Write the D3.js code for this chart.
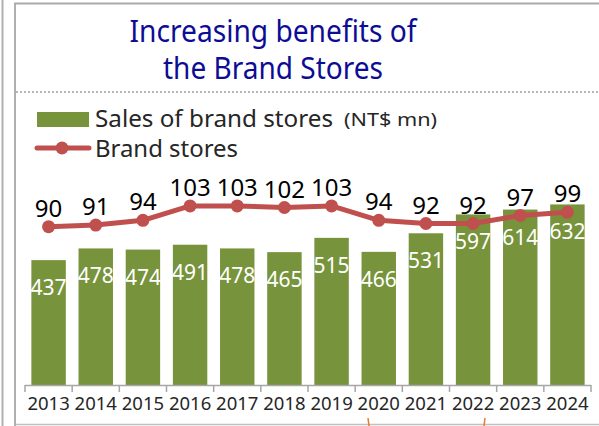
<!DOCTYPE html>
<html>
<head>
<meta charset="utf-8">
<script src="https://cdn.jsdelivr.net/npm/d3@7"></script>
<style>
  body { margin: 0; background: #fff; }
  svg { display: block; font-family: "Noto Sans", "Open Sans", sans-serif; }
</style>
</head>
<body>
<svg id="chart" width="599" height="426"></svg>
<script>
var years = ['2013', '2014', '2015', '2016', '2017', '2018', '2019', '2020', '2021', '2022', '2023', '2024'];
var sales = [437, 478, 474, 491, 478, 465, 515, 466, 531, 597, 614, 632];
var stores = [90, 91, 94, 103, 103, 102, 103, 94, 92, 92, 97, 99];

var svg = d3.select('#chart');

// frame
svg.append('line').attr('x1', 2.5).attr('x2', 2.5).attr('y1', 0).attr('y2', 426).attr('stroke', '#b0b0b0').attr('stroke-width', 2);
svg.append('line').attr('x1', 15).attr('x2', 15).attr('y1', 3).attr('y2', 426).attr('stroke', '#b0b0b0').attr('stroke-width', 2);
svg.append('line').attr('x1', 14).attr('x2', 599).attr('y1', 3.5).attr('y2', 3.5).attr('stroke', '#aaaaaa').attr('stroke-width', 2);
svg.append('line').attr('x1', 16).attr('x2', 599).attr('y1', 92).attr('y2', 92).attr('stroke', '#a0a0a0').attr('stroke-width', 1.5).attr('stroke-dasharray', '2,2');
svg.append('line').attr('x1', 16).attr('x2', 599).attr('y1', 424.5).attr('y2', 424.5).attr('stroke', '#c0c0c0').attr('stroke-width', 1.5);
svg.append('line').attr('x1', 368).attr('x2', 369).attr('y1', 418).attr('y2', 426).attr('stroke', '#e87a2c').attr('stroke-width', 1.5);
svg.append('line').attr('x1', 485).attr('x2', 484).attr('y1', 418).attr('y2', 426).attr('stroke', '#e87a2c').attr('stroke-width', 1.5);

// title
svg.append('text').attr('x', 273).attr('y', 42).attr('text-anchor', 'middle').attr('fill', '#0c0c94')
  .attr('textLength', 287).attr('lengthAdjust', 'spacingAndGlyphs')
  .style('font-size', '30px').text('Increasing benefits of');
svg.append('text').attr('x', 273).attr('y', 79).attr('text-anchor', 'middle').attr('fill', '#0c0c94')
  .attr('textLength', 220).attr('lengthAdjust', 'spacingAndGlyphs')
  .style('font-size', '30px').text('the Brand Stores');

// legend
svg.append('rect').attr('x', 37).attr('y', 112).attr('width', 52).attr('height', 15).attr('fill', '#77933c');
svg.append('text').attr('x', 95).attr('y', 127).attr('fill', '#262626').style('font-size', '23px')
  .attr('textLength', 238).attr('lengthAdjust', 'spacingAndGlyphs').text('Sales of brand stores');
svg.append('text').attr('x', 344).attr('y', 126).attr('fill', '#262626').style('font-size', '18px')
  .attr('textLength', 93).attr('lengthAdjust', 'spacingAndGlyphs').text('(NT$ mn)');
svg.append('line').attr('x1', 37).attr('x2', 89).attr('y1', 148).attr('y2', 148).attr('stroke', '#c0504d').attr('stroke-width', 5).attr('stroke-linecap', 'round');
svg.append('circle').attr('cx', 62).attr('cy', 148).attr('r', 6.5).attr('fill', '#c0504d');
svg.append('text').attr('x', 95).attr('y', 157).attr('fill', '#262626').style('font-size', '23px')
  .attr('textLength', 143).attr('lengthAdjust', 'spacingAndGlyphs').text('Brand stores');

// scales
var x = d3.scaleBand().domain(years).range([25, 591]).paddingInner(0.27).paddingOuter(0.135);
var ySales = d3.scaleLinear().domain([0, 700]).range([385, 185]);
var yStores = d3.scaleLinear().domain([80, 110]).range([242.7, 194.7]);

// bars
svg.selectAll('rect.bar').data(sales).enter().append('rect').attr('class', 'bar')
  .attr('x', function(d, i) { return x(years[i]); })
  .attr('y', function(d) { return ySales(d); })
  .attr('width', x.bandwidth())
  .attr('height', function(d) { return 385 - ySales(d); })
  .attr('fill', '#77933c');

svg.selectAll('text.barlabel').data(sales).enter().append('text').attr('class', 'barlabel')
  .attr('x', function(d, i) { return x(years[i]) + x.bandwidth() / 2; })
  .attr('y', function(d) { return ySales(d) + 35; })
  .attr('text-anchor', 'middle').attr('fill', '#fff').style('font-size', '21px')
  .text(function(d) { return d; });

// x axis
var axis = svg.append('g').attr('transform', 'translate(0, 385)')
  .call(d3.axisBottom(x).tickSize(0).tickPadding(0).tickFormat(''));
axis.select('.domain').remove();
axis.append('line').attr('x1', 25).attr('x2', 591).attr('y1', 0.5).attr('y2', 0.5).attr('stroke', '#a6a6a6').attr('stroke-width', 1.5);
var step = (591 - 25) / years.length;
d3.range(years.length + 1).forEach(function(i) {
  axis.append('line').attr('x1', 25 + i * step).attr('x2', 25 + i * step).attr('y1', 0).attr('y2', 7).attr('stroke', '#a6a6a6').attr('stroke-width', 1.5);
});
svg.selectAll('text.year').data(years).enter().append('text').attr('class', 'year')
  .attr('x', function(d) { return x(d) + x.bandwidth() / 2; })
  .attr('y', 410).attr('text-anchor', 'middle').attr('fill', '#262626').style('font-size', '18.5px')
  .text(function(d) { return d; });

// line
var line = d3.line().x(function(d, i) { return x(years[i]) + x.bandwidth() / 2; }).y(function(d) { return yStores(d); });
svg.append('path').datum(stores).attr('d', line).attr('fill', 'none').attr('stroke', '#c0504d').attr('stroke-width', 5).attr('stroke-linejoin', 'round');
svg.selectAll('circle.pt').data(stores).enter().append('circle').attr('class', 'pt')
  .attr('cx', function(d, i) { return x(years[i]) + x.bandwidth() / 2; })
  .attr('cy', function(d) { return yStores(d); })
  .attr('r', 6.5).attr('fill', '#c0504d');
svg.selectAll('text.ptlabel').data(stores).enter().append('text').attr('class', 'ptlabel')
  .attr('x', function(d, i) { return x(years[i]) + x.bandwidth() / 2; })
  .attr('y', function(d) { return yStores(d) - 10; })
  .attr('text-anchor', 'middle').attr('fill', '#000').style('font-size', '24px')
  .text(function(d) { return d; });
</script>
</body>
</html>
